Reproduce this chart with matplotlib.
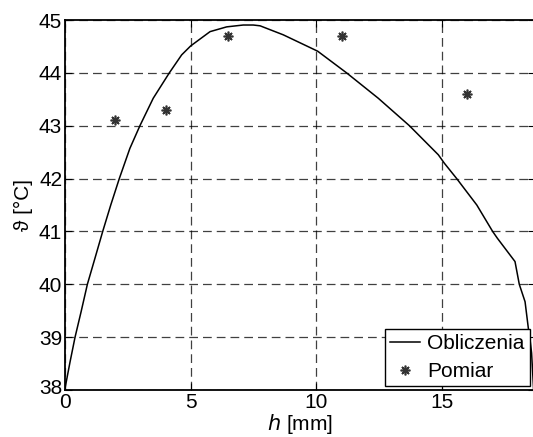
import numpy as np
import matplotlib.pyplot as plt
from matplotlib.transforms import ScaledTranslation

plt.rcParams['font.family'] = ['Liberation Sans', 'DejaVu Sans']

# computed curve
h_calc = [0.0, 0.2, 0.40, 0.64, 0.89, 1.19, 1.50, 1.82, 2.16, 2.58, 2.98, 3.51,
          4.15, 4.64, 5.0, 5.77, 6.43, 7.09, 7.49, 7.76, 8.68, 10.05, 11.2,
          12.46, 13.70, 14.85, 15.09, 15.58, 16.38, 17.01, 17.2, 17.9, 18.07,
          18.3, 18.43, 18.5, 18.56, 18.64]
t_calc = [38.03, 38.53, 39.0, 39.48, 40.0, 40.49, 41.0, 41.5, 42.0, 42.57, 43.0, 43.52,
          44.0, 44.34, 44.51, 44.78, 44.87, 44.905, 44.905, 44.89, 44.72, 44.41, 44.0,
          43.52, 43.0, 42.45, 42.29, 42.0, 41.5, 41.0, 40.87, 40.43, 40.0,
          39.67, 39.17, 38.95, 38.7, 38.0]

# measurements
h_meas = [2, 4, 6.5, 11, 16]
t_meas = [43.1, 43.3, 44.7, 44.7, 43.6]

fig = plt.figure(figsize=(5.33, 4.37), dpi=100)
ax = fig.add_axes([65 / 533, (437 - 390) / 437, 470 / 533, 370 / 437])

ax.plot(h_calc, t_calc, color='black', linewidth=1.1, label='Obliczenia')
ax.plot(h_meas, t_meas, linestyle='none', marker=(8, 2, 0), markersize=7,
        color='#333333', markeredgewidth=1.2, label='Pomiar')

ax.set_xlim(0, 470 / 25.14)
ax.set_ylim(38, 45)
ax.set_xticks([0, 5, 10, 15])
ax.set_yticks(range(38, 46))
ax.grid(True, color='black', linestyle=(0, (7, 4)), linewidth=0.9, alpha=0.75)
ax.tick_params(direction='in', labelsize=15, length=5, width=0.8, top=True, right=True,
               pad=2)
for s in ax.spines.values():
    s.set_linewidth(1.3)

# lift the lowest y label a little, as in the original
lbl = ax.get_yticklabels()[0]
lbl.set_transform(lbl.get_transform() + ScaledTranslation(0, 3 / 100, fig.dpi_scale_trans))

ax.set_xlabel('$h$ [mm]', fontsize=15, labelpad=0)
ax.set_ylabel('ϑ [°C]', fontsize=15, labelpad=4)

leg = ax.legend(loc='lower right', fontsize=15, fancybox=False, edgecolor='black',
                framealpha=1, handlelength=1.45, handletextpad=0.35, borderpad=0.25,
                labelspacing=0.4, borderaxespad=0,
                bbox_to_anchor=(465 / 470, 4 / 370))
leg.get_frame().set_linewidth(1.0)

fig.savefig('out.png', dpi=100)
